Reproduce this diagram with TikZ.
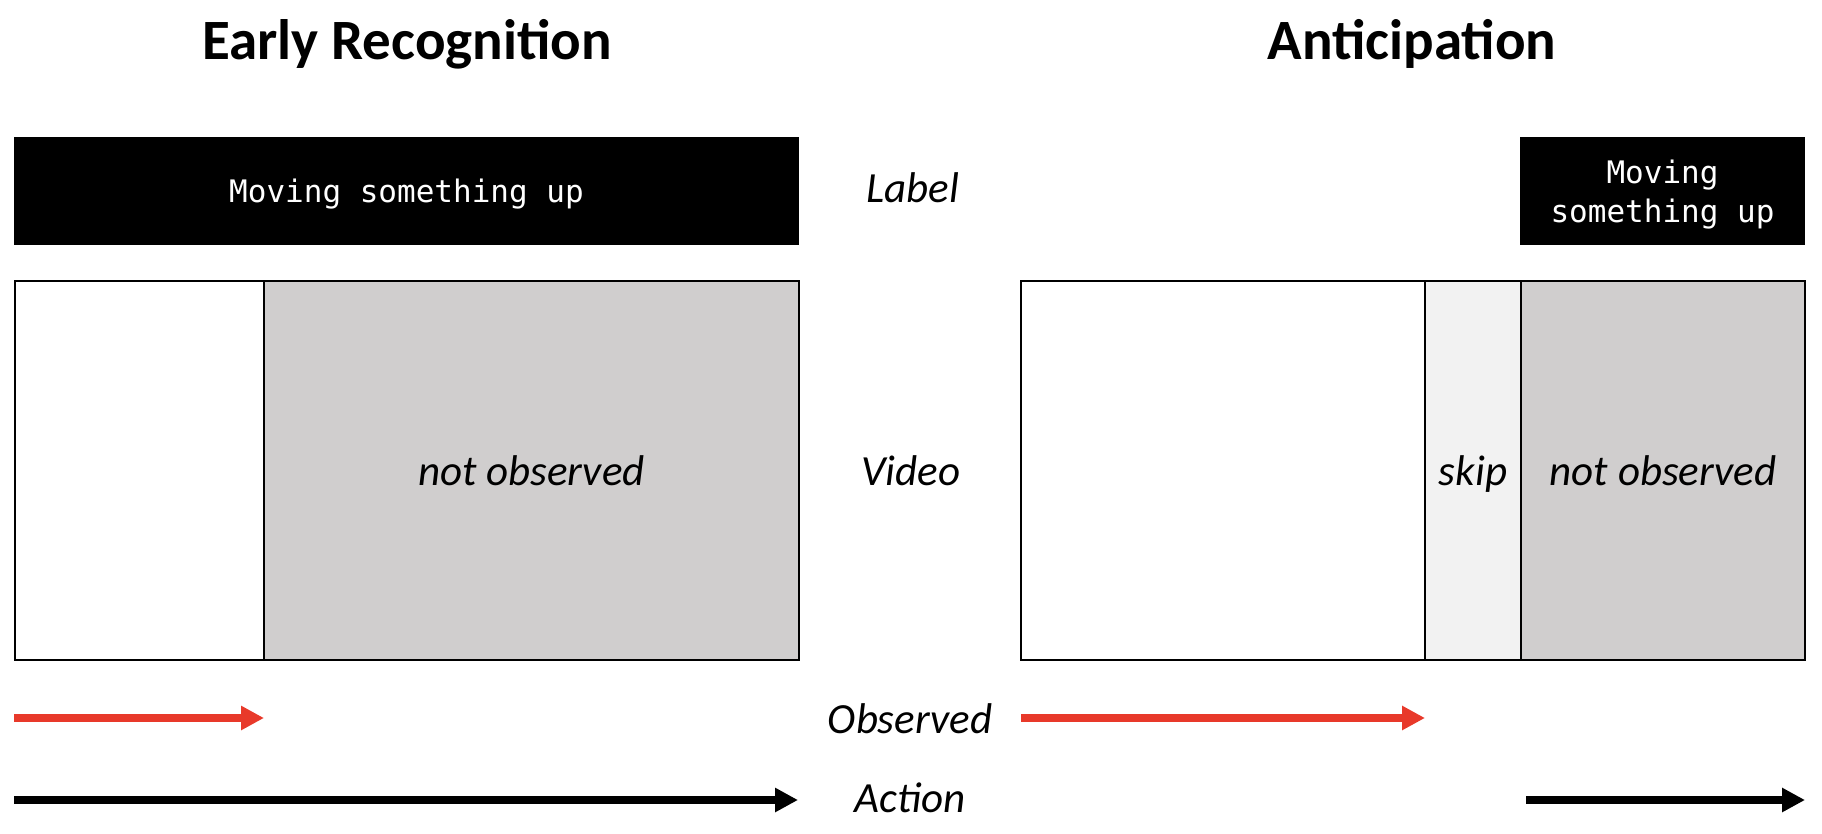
\documentclass[tikz,border=0pt]{standalone}
\usepackage{fontspec}
\setmainfont{Carlito}
\setmonofont{DejaVu Sans Mono}
\usetikzlibrary{positioning}
\usetikzlibrary{arrows.meta}
\definecolor{obs-red}{HTML}{E8392A}
\definecolor{unseen-gray}{HTML}{D0CECE}
\definecolor{skip-gray}{HTML}{F2F2F2}
\newcommand{\labelstrut}{\rule{0pt}{30.5pt}}
\tikzset{
  segment/.style={draw=black,line width=2pt,inner sep=0pt,outer sep=0pt,minimum height=379pt,
    font=\fontsize{43}{52}\selectfont\itshape,text height=38pt,text depth=9pt},
  labelbox/.style={fill=black,text=white,inner sep=0pt,outer sep=0pt,minimum height=108pt,
    align=center,font=\fontsize{31}{39.5}\selectfont\ttfamily},
  rowname/.style={inner sep=0pt,font=\fontsize{43}{52}\selectfont\itshape,text height=32pt,text depth=9pt},
  heading/.style={anchor=base,font=\fontsize{57}{68}\selectfont\bfseries},
  timeline/.style={line width=8pt,-{Triangle[width=23pt,length=23pt]}}
}

\begin{document}
\begin{tikzpicture}[x=1pt,y=-1pt]
\useasboundingbox (0,0) rectangle (1822,834);
% headings
\node[heading] (title-er) at (407,59.5) {Early Recognition};
\node[heading] (title-ant) at (1412,59.5) {Anticipation};
% labels
\node[labelbox,anchor=north west,minimum width=785pt] (lbl-er) at (14,137) {\labelstrut Moving something up};
\node[labelbox,anchor=north west,minimum width=285pt] (lbl-ant) at (1520,137) {\labelstrut Moving\\something up};
% early recognition video
\node[segment,anchor=north west,minimum width=249pt] (vid-er-seen) at (15,281) {};
\node[segment,fill=unseen-gray,minimum width=535pt,right=0pt of vid-er-seen] (vid-er-unseen) {not observed};
% anticipation video
\node[segment,anchor=north west,minimum width=404pt] (vid-ant-seen) at (1021,281) {};
\node[segment,fill=skip-gray,minimum width=96pt,right=0pt of vid-ant-seen] (vid-ant-skip) {skip};
\node[segment,fill=unseen-gray,minimum width=284pt,right=0pt of vid-ant-skip] (vid-ant-unseen) {not observed};
% row names
\node[rowname] (row-label) at (913,191) {Label};
\node[rowname] (row-video) at (911,474) {Video};
\node[rowname] (row-obs) at (910,721.5) {Observed};
\node[rowname] (row-action) at (910,801) {Action};
% time arrows
\coordinate (obs-er-a) at (14,718);
\coordinate (obs-er-b) at (264,718);
\coordinate (obs-ant-a) at (1021,718);
\coordinate (obs-ant-b) at (1425,718);
\coordinate (act-er-a) at (14,800);
\coordinate (act-er-b) at (798,800);
\coordinate (act-ant-a) at (1526,800);
\coordinate (act-ant-b) at (1805,800);
\draw[timeline,obs-red] (obs-er-a) -- (obs-er-b);
\draw[timeline,obs-red] (obs-ant-a) -- (obs-ant-b);
\draw[timeline] (act-er-a) -- (act-er-b);
\draw[timeline] (act-ant-a) -- (act-ant-b);
\end{tikzpicture}
\end{document}
